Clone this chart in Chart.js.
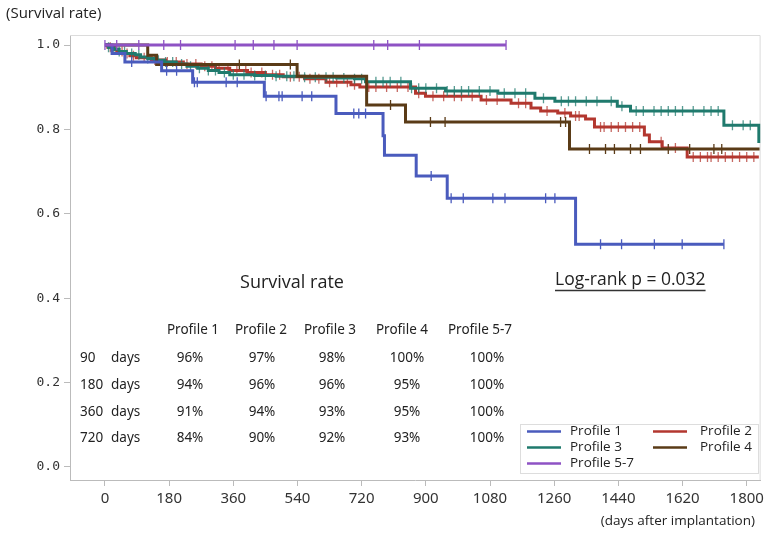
<!DOCTYPE html>
<html>
<head>
<meta charset="utf-8">
<script src="https://cdn.jsdelivr.net/npm/chart.js"></script>
<style>
  body { margin: 0; background: #fff; }
  #wrap { width: 768px; height: 533px; position: relative; }
</style>
</head>
<body>
<div id="wrap"><canvas id="kmChart"></canvas></div>
<script>
// data
const xTicks = [0, 180, 360, 540, 720, 900, 1080, 1260, 1440, 1620, 1800];
const yTicks = [0, 0.2, 0.4, 0.6, 0.8, 1.0];

const p1Days = [0, 20, 56, 159, 246, 447, 648, 780, 784, 873, 960, 1320, 1736];
const p1Surv = [1, 0.98, 0.96, 0.939, 0.912, 0.879, 0.838, 0.785, 0.739, 0.69, 0.637, 0.528, 0.528];
const p1Cens = [75, 173, 201, 251, 259, 340, 371, 452, 488, 497, 553, 580, 698, 712, 731, 915, 971, 1005, 1088, 1122, 1236, 1262, 1390, 1449, 1541, 1619, 1736];

const p2Days = [0, 8, 20, 35, 50, 70, 88, 130, 170, 220, 270, 310, 350, 400, 450, 500, 560, 620, 690, 715, 871, 899, 1055, 1139, 1195, 1222, 1270, 1306, 1348, 1373, 1513, 1527, 1563, 1633, 1834];
const p2Surv = [1, 0.995, 0.99, 0.985, 0.98, 0.975, 0.97, 0.965, 0.96, 0.955, 0.95, 0.945, 0.94, 0.935, 0.93, 0.925, 0.92, 0.912, 0.906, 0.901, 0.886, 0.879, 0.87, 0.862, 0.851, 0.844, 0.839, 0.832, 0.825, 0.806, 0.787, 0.771, 0.756, 0.735, 0.735];
const p2Cens = [15, 30, 48, 62, 80, 110, 140, 175, 200, 230, 255, 280, 300, 320, 345, 370, 395, 410, 440, 470, 490, 520, 545, 575, 600, 630, 650, 680, 700, 740, 760, 790, 820, 850, 880, 920, 950, 980, 1000, 1030, 1070, 1100, 1160, 1180, 1240, 1290, 1320, 1330, 1390, 1400, 1420, 1440, 1460, 1480, 1500, 1560, 1600, 1650, 1670, 1690, 1700, 1720, 1740, 1760, 1780, 1800, 1820];

const p3Days = [0, 10, 25, 40, 60, 85, 100, 120, 140, 165, 200, 230, 260, 290, 320, 350, 420, 480, 560, 650, 700, 731, 857, 955, 1102, 1206, 1262, 1437, 1474, 1736, 1834];
const p3Surv = [1, 0.995, 0.99, 0.985, 0.98, 0.977, 0.972, 0.968, 0.964, 0.96, 0.955, 0.95, 0.945, 0.94, 0.935, 0.93, 0.928, 0.926, 0.924, 0.922, 0.92, 0.913, 0.898, 0.891, 0.886, 0.874, 0.867, 0.855, 0.844, 0.81, 0.768];
const p3Cens = [10, 25, 40, 55, 75, 95, 120, 150, 170, 190, 215, 240, 265, 290, 310, 335, 360, 390, 420, 450, 480, 510, 530, 560, 590, 620, 640, 670, 700, 720, 760, 780, 800, 830, 860, 880, 900, 930, 960, 980, 1000, 1020, 1050, 1080, 1120, 1150, 1180, 1230, 1280, 1300, 1320, 1350, 1380, 1420, 1450, 1490, 1510, 1540, 1560, 1580, 1600, 1620, 1650, 1680, 1700, 1720, 1760, 1790, 1810];

const p4Days = [0, 120, 145, 539, 734, 843, 1303, 1836];
const p4Surv = [1, 0.976, 0.954, 0.926, 0.858, 0.818, 0.754, 0.754];
const p4Cens = [377, 520, 801, 913, 954, 1278, 1292, 1359, 1404, 1429, 1474, 1502, 1580, 1640, 1708, 1730];

const p5Days = [0, 1125];
const p5Surv = [1, 1];
const p5Cens = [0, 33, 95, 165, 212, 365, 416, 474, 539, 754, 793, 882, 1125];

// survival table
const tableHeads = ['Profile 1', 'Profile 2', 'Profile 3', 'Profile 4', 'Profile 5-7'];
const tableRows = ['90', '180', '360', '720'];
const tableVals = [
    ['96%', '97%', '98%', '100%', '100%'],
    ['94%', '96%', '96%', '95%', '100%'],
    ['91%', '94%', '93%', '95%', '100%'],
    ['84%', '90%', '92%', '93%', '100%']
];

const colors = {
    p1: '#4a5bbd',
    p2: '#b3372f',
    p3: '#1f7a6d',
    p4: '#5a3b17',
    p5: '#8e52c4'
};

function steps(days, surv) {
    return days.map((d, i) => ({ x: d, y: surv[i] }));
}

// put each censor mark on its curve
function marks(days, surv, cens) {
    return cens.map(t => {
        let s = surv[0];
        for (let i = 0; i < days.length; i++) {
            if (days[i] <= t) s = surv[i];
        }
        return { x: t, y: s };
    });
}

function curve(label, days, surv, color, order) {
    return {
        label: label,
        data: steps(days, surv),
        showLine: true,
        stepped: 'before',
        borderColor: color,
        borderWidth: 3,
        pointRadius: 0,
        order: order
    };
}

function censor(days, surv, cens, color, order) {
    return {
        data: marks(days, surv, cens),
        showLine: false,
        pointStyle: 'line',
        rotation: 90,
        pointRadius: 5,
        borderWidth: 1.3,
        borderColor: color,
        order: order
    };
}

// texts, table and legend drawn on top
const overlay = {
    id: 'overlay',
    beforeDatasetsDraw(chart) {
        const { ctx, chartArea } = chart;
        ctx.save();
        ctx.strokeStyle = '#dcdcdc';
        ctx.lineWidth = 1;
        ctx.beginPath();
        ctx.moveTo(chartArea.left, chartArea.top + 0.5);
        ctx.lineTo(chartArea.right - 0.5, chartArea.top + 0.5);
        ctx.lineTo(chartArea.right - 0.5, chartArea.bottom);
        ctx.stroke();
        ctx.restore();
    },
    afterDraw(chart) {
        const ctx = chart.ctx;
        ctx.save();
        ctx.fillStyle = '#222';
        ctx.textBaseline = 'middle';

        ctx.font = '15px "Open Sans"';
        ctx.textAlign = 'left';
        ctx.fillText('(Survival rate)', 6, 14);
        ctx.font = '13.5px "Open Sans"';
        ctx.textAlign = 'right';
        ctx.fillText('(days after implantation)', 755, 521);

        ctx.font = '18px "Open Sans"';
        ctx.textAlign = 'center';
        ctx.fillText('Survival rate', 292, 283);

        // log-rank
        ctx.font = '17.5px "Open Sans"';
        ctx.textAlign = 'left';
        ctx.fillText('Log-rank p = 0.032', 555, 280);
        const w = ctx.measureText('Log-rank p = 0.032').width;
        ctx.strokeStyle = '#333';
        ctx.lineWidth = 1.4;
        ctx.beginPath();
        ctx.moveTo(555, 290.5);
        ctx.lineTo(555 + w, 290.5);
        ctx.stroke();

        // table
        const colX = [193, 261, 330, 402, 480];
        ctx.font = '13.5px "Noto Sans"';
        ctx.textAlign = 'center';
        tableHeads.forEach((h, i) => ctx.fillText(h, colX[i], 330));
        const rowY = [358, 385, 412, 438];
        tableRows.forEach((r, j) => {
            ctx.textAlign = 'left';
            ctx.fillText(r, 80, rowY[j]);
            ctx.fillText('days', 111, rowY[j]);
            ctx.textAlign = 'center';
            tableVals[j].forEach((v, i) => ctx.fillText(v, colX[i] + [-3, 1, 2, 5, 7][i], rowY[j]));
        });

        // legend box
        ctx.strokeStyle = '#dddddd';
        ctx.lineWidth = 1;
        ctx.fillStyle = '#fff';
        ctx.fillRect(520, 424, 238, 49);
        ctx.strokeRect(520.5, 424.5, 238, 49);
        const items = [
            ['Profile 1', colors.p1, 527, 431],
            ['Profile 2', colors.p2, 653, 431],
            ['Profile 3', colors.p3, 527, 447],
            ['Profile 4', colors.p4, 653, 447],
            ['Profile 5-7', colors.p5, 527, 463]
        ];
        ctx.font = '13.5px "Open Sans"';
        ctx.textAlign = 'left';
        items.forEach(([t, c, x, y]) => {
            ctx.strokeStyle = c;
            ctx.lineWidth = 2.6;
            ctx.beginPath();
            ctx.moveTo(x, y + 0.5);
            ctx.lineTo(x + 34, y + 0.5);
            ctx.stroke();
            ctx.fillStyle = '#222';
            ctx.fillText(t, x + (x > 600 ? 47 : 43), y);
        });
        ctx.restore();
    }
};

const kmCtx = document.getElementById('kmChart');

new Chart(kmCtx, {
    type: 'scatter',
    data: {
        datasets: [
            curve('Profile 5-7', p5Days, p5Surv, colors.p5, 0),
            censor(p5Days, p5Surv, p5Cens, colors.p5, 0),
            curve('Profile 1', p1Days, p1Surv, colors.p1, 1),
            censor(p1Days, p1Surv, p1Cens, colors.p1, 1),
            curve('Profile 4', p4Days, p4Surv, colors.p4, 2),
            censor(p4Days, p4Surv, p4Cens, colors.p4, 2),
            curve('Profile 3', p3Days, p3Surv, colors.p3, 3),
            censor(p3Days, p3Surv, p3Cens, 'rgba(31,122,109,0.75)', 3),
            curve('Profile 2', p2Days, p2Surv, colors.p2, 4),
            censor(p2Days, p2Surv, p2Cens, 'rgba(179,55,47,0.75)', 4)
        ]
    },
    options: {
        responsive: true,
        maintainAspectRatio: false,
        animation: false,
        layout: { padding: { top: 35, right: 4, left: 0, bottom: 0 } },
        plugins: {
            legend: { display: false },
            tooltip: { enabled: false }
        },
        scales: {
            x: {
                type: 'linear',
                min: -98,
                max: 1839,
                afterBuildTicks: scale => { scale.ticks = xTicks.map(v => ({ value: v })); },
                afterFit: scale => { scale.height = 53; },
                grid: {
                    drawOnChartArea: false,
                    color: '#bbbbbb',
                    tickLength: 6
                },
                border: { color: '#bbbbbb' },
                ticks: {
                    color: '#333',
                    padding: 4,
                    maxRotation: 0,
                    callback: v => String(v),
                    font: { family: 'Noto Sans', size: 15 }
                }
            },
            y: {
                min: -0.031,
                max: 1.024,
                afterBuildTicks: scale => { scale.ticks = yTicks.map(v => ({ value: v })); },
                afterFit: scale => { scale.width = 70; },
                grid: {
                    drawOnChartArea: false,
                    color: '#bbbbbb',
                    tickLength: 6
                },
                border: { color: '#bbbbbb' },
                ticks: {
                    color: '#333',
                    padding: 4,
                    callback: v => v.toFixed(1),
                    font: { family: 'DejaVu Sans Mono', size: 13 }
                }
            }
        }
    },
    plugins: [overlay]
});
</script>
</body>
</html>
